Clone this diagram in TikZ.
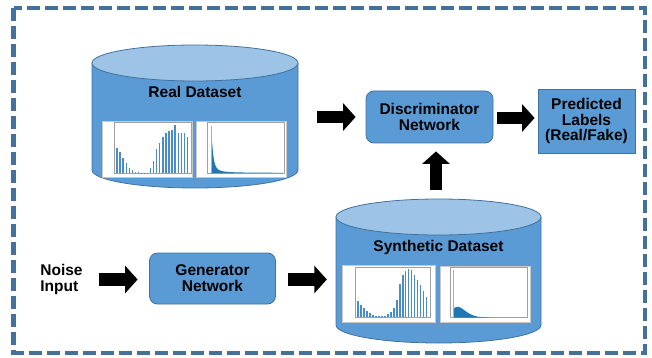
\documentclass[tikz,border=0pt]{standalone}
\usepackage{fontspec}
\setmainfont{Liberation Sans}
\usetikzlibrary{arrows.meta}
\definecolor{bodyblue}{HTML}{5B9BD5}
\definecolor{topblue}{HTML}{9DC3E6}
\definecolor{edgeblue}{HTML}{41719C}
\definecolor{dashblue}{HTML}{41719C}
\definecolor{barblue}{HTML}{4A8CC8}
\definecolor{lightbar}{HTML}{8AB8DD}
\definecolor{mplblue}{HTML}{1F77B4}
\definecolor{framegray}{HTML}{C8C8C8}
\definecolor{axisgray}{HTML}{A0A0A0}
\tikzset{
  lbl/.style={font=\fontsize{15.5}{15.8}\selectfont\bfseries, align=center, inner sep=0pt},
  box/.style={lbl, fill=bodyblue, draw=edgeblue, line width=0.8pt},
  cylbody/.style={fill=bodyblue, draw=edgeblue, line width=0.8pt},
  cyltop/.style={fill=topblue, draw=edgeblue, line width=0.8pt},
  chartframe/.style={fill=white, draw=framegray, line width=0.8pt},
  axesframe/.style={draw=axisgray, line width=0.5pt},
  bigarrow/.style={black, line width=12.5pt, -{Triangle[length=12.5pt, width=27pt]}},
}
\begin{document}
\begin{tikzpicture}[x=1pt, y=-1pt]
\useasboundingbox (0,0) rectangle (652,358);
% outer dashed border
\draw[dashblue, line width=4.5pt, dash pattern=on 13.5pt off 4.5pt] (13.7,7.8) rectangle (645,352.8);

% ---------- Real dataset cylinder ----------
\node[minimum width=206pt, minimum height=143pt, inner sep=0pt] (real) at (195,116.5) {};
\draw[cylbody] (92,63) -- (92,170) arc[start angle=180, end angle=360, x radius=103pt, y radius=18pt] -- (298,63) -- cycle;
\draw[cyltop] (195,63) ellipse[x radius=103pt, y radius=18pt];
\node[lbl] (reallbl) at (195,92) {Real Dataset};
% left chart
\draw[chartframe] (102.5,121) rectangle (192.5,177);
\draw[axesframe] (114,122.5) rectangle (191,173);
\begin{scope}[shift={(114,173)}]
\foreach \h [count=\i from 0] in {0.51,0.43,0.31,0.2,0.11,0.06,0.03,0.015,0.01,0.01,0.01,0.1,0.24,0.47,0.59,0.72,0.8,0.83,0.86,0.95,0.8,0.8,0.8,0.72}
  \fill[barblue] ({3+\i*3.06-0.65},0) rectangle ++(1.3,{-\h*50});
\end{scope}
% right chart
\draw[chartframe] (196.5,121) rectangle (286.5,177);
\draw[axesframe] (207,122.5) rectangle (284,173);
\fill[mplblue] plot[domain=0:72, samples=80] ({211+\x},{173-38/(1+0.25*\x*\x)-1.5/(1+0.1*\x)}) -- (283,173) -- (211,173) -- cycle;
\fill[lightbar] (210.5,173) rectangle (211.7,126);

% ---------- Synthetic dataset cylinder ----------
\node[minimum width=205pt, minimum height=144pt, inner sep=0pt] (synth) at (438.5,271) {};
\draw[cylbody] (336,217) -- (336,325) arc[start angle=180, end angle=360, x radius=102.5pt, y radius=18pt] -- (541,217) -- cycle;
\draw[cyltop] (438.5,217) ellipse[x radius=102.5pt, y radius=18pt];
\node[lbl] (synthlbl) at (438.5,247) {Synthetic Dataset};
% left chart
\draw[chartframe] (342,265) rectangle (435,322);
\draw[axesframe] (355,267) rectangle (430,317);
\begin{scope}[shift={(355,317)}]
\foreach \h [count=\i from 0] in {0.33,0.25,0.18,0.13,0.08,0.05,0.03,0.02,0.015,0.015,0.07,0.11,0.19,0.35,0.67,0.84,0.92,0.96,0.94,0.85,0.74,0.64,0.53,0.4}
  \fill[barblue] ({3+\i*2.99-0.65},0) rectangle ++(1.3,{-\h*50});
\end{scope}
% right chart
\draw[chartframe] (440,266) rectangle (530,322);
\draw[axesframe] (450,267) rectangle (527,317.5);
\fill[mplblue] plot[smooth] coordinates {(453.5,317.5) (453.5,309) (455,307.5) (457,306.8) (459,307) (462,308.5) (466,311.5) (470,314) (475,316) (480,317) (490,317.5)} -- cycle;
\fill[lightbar] (452.8,317.5) rectangle (454,270);

% ---------- boxes ----------
\node[box, rounded corners=8pt, minimum width=127pt, minimum height=52pt] (disc) at (429.5,117) {Discriminator\\Network};
\node[box, minimum width=97pt, minimum height=64pt] (pred) at (586.5,121) {Predicted\\Labels\\(Real/Fake)};
\node[box, rounded corners=8pt, minimum width=126pt, minimum height=51pt] (gen) at (212.5,278.5) {Generator\\Network};
\node[lbl, align=left] (noise) at (61.5,279.5) {Noise\\Input};

% ---------- arrows ----------
\draw[bigarrow, shorten <=19pt, shorten >=10pt] (real.east |- disc.west) -- (disc.west);
\draw[bigarrow, shorten <=4pt, shorten >=3pt] ([yshift=-1pt]disc.east) -- ([yshift=-1pt]disc.east -| pred.west);
\draw[bigarrow, shorten <=9pt, shorten >=8pt] ([xshift=-2.5pt]synth.north) -- ([xshift=-2.5pt]synth.north |- disc.south);
\draw[bigarrow, shorten <=16pt, shorten >=11.5pt] (noise.east) -- (gen.west |- noise.east);
\draw[bigarrow, shorten <=12pt, shorten >=9pt] (gen.east |- noise.east) -- (synth.west |- noise.east);
\end{tikzpicture}
\end{document}
